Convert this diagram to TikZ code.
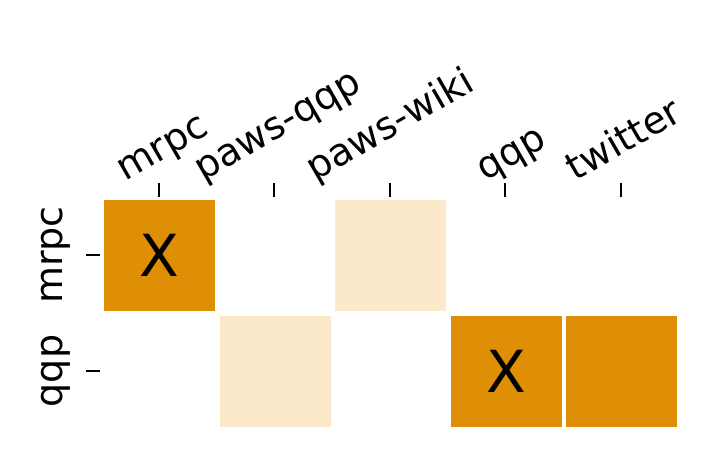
\documentclass[tikz,border=0pt]{standalone}
\usepackage{fontspec}
\setmainfont{DejaVu Sans}
\definecolor{hi}{HTML}{DE8F05}
\definecolor{lo}{HTML}{FBE9CA}
\begin{document}
\begin{tikzpicture}[x=1pt,y=-1pt,
  cell/.style={draw=none,minimum width=111pt,minimum height=111pt,inner sep=0},
  lab/.style={font=\fontsize{38}{38}\selectfont,inner sep=0},
  mk/.style={font=\fontsize{58}{58}\selectfont}]
\useasboundingbox (0,0) rectangle (720,458);
\node[cell,fill=hi] (c11) at (159.5,255.5) {};
\node[mk] (x1) at (c11) {X};
\node[cell,fill=lo] (c13) at (390.5,255.5) {};
\node[cell,fill=lo] (c22) at (275,371) {};
\node[cell,fill=hi] (c24) at (506,371) {};
\node[mk] (x2) at (c24) {X};
\node[cell,fill=hi] (c25) at (621.5,371) {};
\foreach \x/\xx/\t [count=\i] in {159/130/mrpc,274/208/paws-qqp,390/320/paws-wiki,505/490/qqp,621/580/twitter}{
  \coordinate (ta\i) at (\x,183); \coordinate (tb\i) at (\x,197);
  \draw[line width=2pt] (ta\i) -- (tb\i);
  \node[lab,rotate=30,anchor=south west,text depth=9pt,text height=35pt] (l\i) at (\xx,190) {\t};
}
\coordinate (ra1) at (86,255); \coordinate (rb1) at (100,255);
\coordinate (ra2) at (86,371); \coordinate (rb2) at (100,371);
\draw[line width=2pt] (ra1) -- (rb1);
\draw[line width=2pt] (ra2) -- (rb2);
\node[lab,rotate=90,anchor=south,text depth=9pt] (r1) at (72,255) {mrpc};
\node[lab,rotate=90,anchor=south,text depth=9pt] (r2) at (72,371) {qqp};
\end{tikzpicture}
\end{document}
